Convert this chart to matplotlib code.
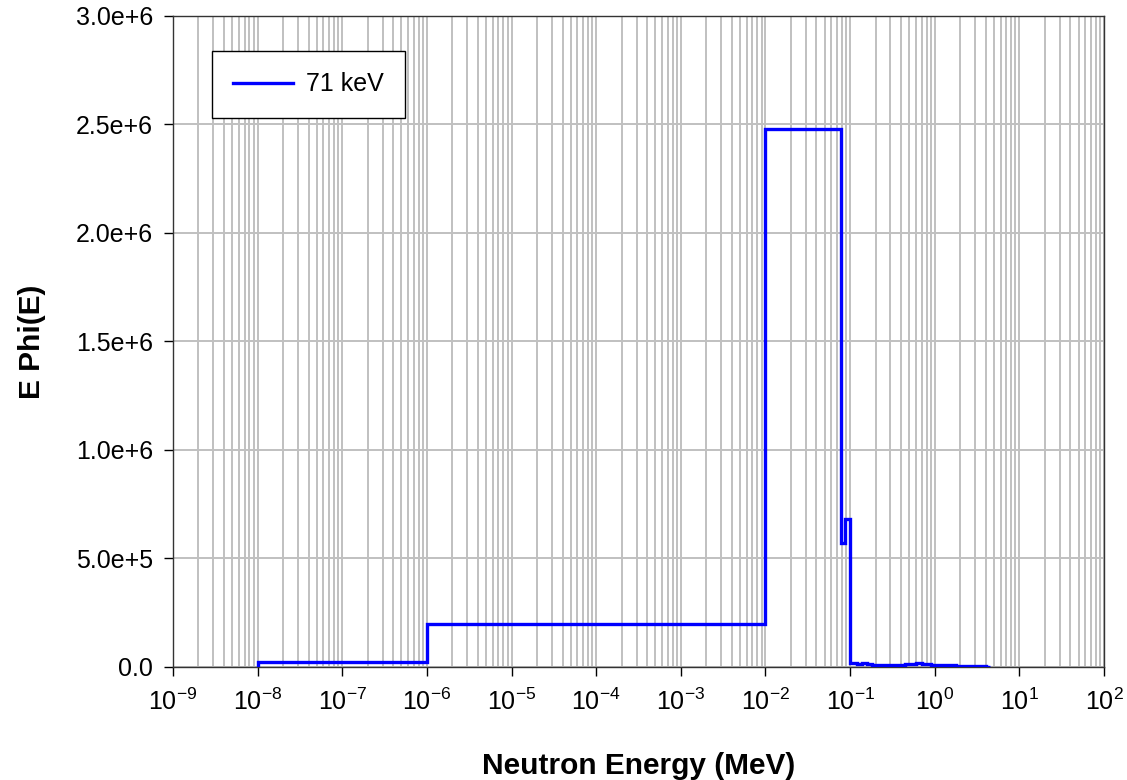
import matplotlib
matplotlib.use("Agg")
import matplotlib.pyplot as plt
from matplotlib.ticker import LogLocator, FuncFormatter, MultipleLocator, NullFormatter
import numpy as np

plt.rcParams['font.family'] = ['Liberation Sans', 'DejaVu Sans']
plt.rcParams['mathtext.fontset'] = 'custom'
plt.rcParams['mathtext.rm'] = 'Liberation Sans'
plt.rcParams['mathtext.it'] = 'Liberation Sans:italic'
plt.rcParams['mathtext.bf'] = 'Liberation Sans:bold'

# energy bin edges (MeV) and E*Phi(E) per bin
edges = [1e-8, 1e-6, 1e-2, 0.078, 0.088, 0.1,
         0.12, 0.14, 0.16, 0.18, 0.2, 0.25, 0.3, 0.35, 0.4, 0.45, 0.5,
         0.6, 0.7, 0.8, 0.9, 1.0, 1.2, 1.4, 1.6, 1.8, 2.0, 2.5, 3.0,
         3.5, 4.0, 4.5]
ephi = [2.5e4, 2.0e5, 2.48e6, 5.7e5, 6.8e5,
        1.9e4, 1.6e4, 1.8e4, 1.2e4, 0.8e4, 1.0e4, 1.1e4, 1.0e4, 0.7e4,
        1.0e4, 1.2e4, 1.5e4, 2.0e4, 1.4e4, 1.2e4, 1.0e4, 0.9e4, 0.8e4,
        0.8e4, 0.7e4, 0.6e4, 0.6e4, 0.5e4, 0.4e4, 0.3e4, 0.2e4]
label = "71 keV"

fig = plt.figure(figsize=(11.27, 7.8), dpi=100)
ax = fig.add_axes([0.1535, 0.1449, 0.8261, 0.8346])

ax.stairs(ephi, edges, baseline=0, color='#0000ff', lw=2.4, label=label, zorder=3)

ax.set_xscale('log')
ax.set_xlim(1e-9, 1e2)
ax.set_ylim(0, 3.0e6)
ax.xaxis.set_major_locator(LogLocator(base=10, numticks=20))
ax.xaxis.set_minor_locator(LogLocator(base=10, subs=range(2, 10), numticks=200))
ax.xaxis.set_minor_formatter(NullFormatter())
ax.yaxis.set_major_locator(MultipleLocator(5e5))

def xfmt(v, pos):
    e = int(round(np.log10(v)))
    return r"$\mathregular{10^{%d}}$" % e

def yfmt(v, pos):
    if v == 0:
        return "0.0"
    s = "%.1e" % v
    m, e = s.split("e")
    return "%se+%d" % (m, int(e))

ax.xaxis.set_major_formatter(FuncFormatter(xfmt))
ax.yaxis.set_major_formatter(FuncFormatter(yfmt))

ax.grid(True, which='both', axis='x', color='#c0c0c0', lw=1.4)
ax.grid(True, which='major', axis='y', color='#c0c0c0', lw=1.4)
ax.set_axisbelow(True)

ax.tick_params(which='major', direction='out', length=6.5, width=1, labelsize=18)
ax.tick_params(axis='y', pad=8)
ax.tick_params(axis='x', pad=9)
ax.tick_params(which='minor', length=0)
for s in ax.spines.values():
    s.set_color('#333333')
    s.set_linewidth(1)

ax.set_xlabel("Neutron Energy (MeV)", fontsize=21.5, fontweight='bold', va='center')
ax.xaxis.set_label_coords(0.5, -0.152)
ax.set_ylabel("E Phi(E)", fontsize=21.5, fontweight='bold', va='center')
ax.yaxis.set_label_coords(-0.1515, 0.5)

leg = ax.legend(loc='upper left', bbox_to_anchor=(0.0419, 0.946), fontsize=18,
                frameon=True, fancybox=False, edgecolor='black', framealpha=1,
                handlelength=2.4, borderpad=0.85, handletextpad=0.52,
                borderaxespad=0)
leg.get_frame().set_linewidth(1)

fig.savefig("out.png", dpi=100)
